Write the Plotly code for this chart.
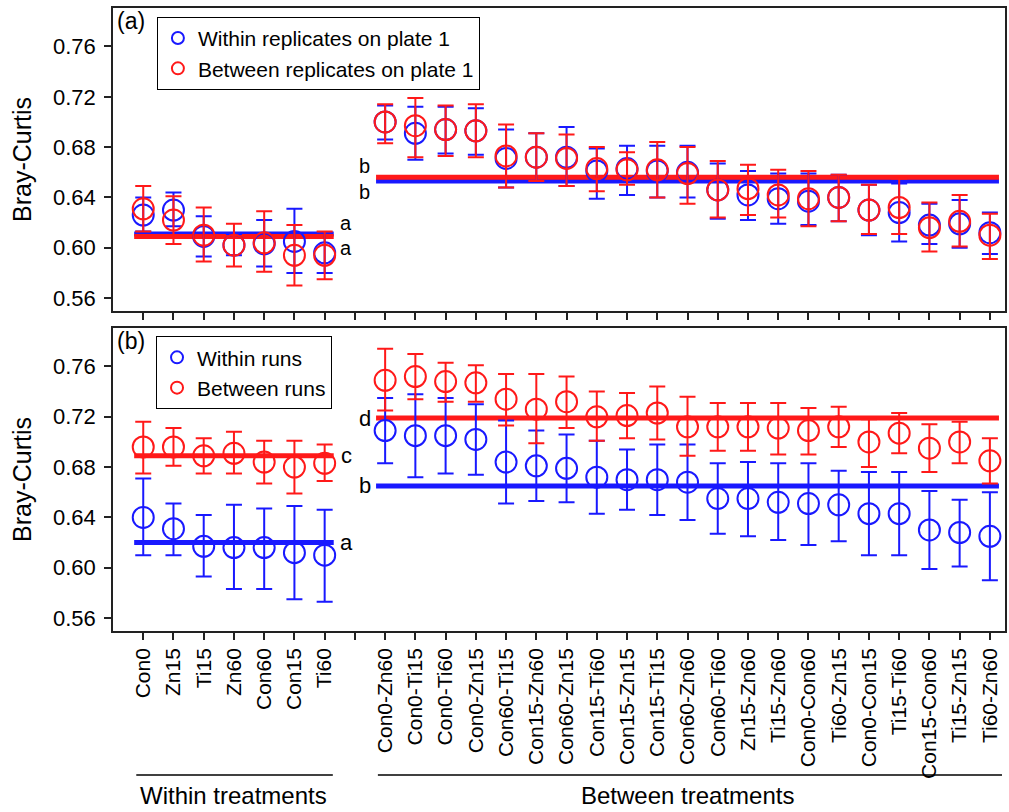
import plotly.graph_objects as go
import numpy as np

# ---------------- data ----------------
within_cats = ["Con0", "Zn15", "Ti15", "Zn60", "Con60", "Con15", "Ti60"]
between_cats = ["Con0-Zn60", "Con0-Ti15", "Con0-Ti60", "Con0-Zn15", "Con60-Ti15",
                "Con15-Zn60", "Con60-Zn15", "Con15-Ti60", "Con15-Zn15", "Con15-Ti15",
                "Con60-Zn60", "Con60-Ti60", "Zn15-Zn60", "Ti15-Zn60", "Con0-Con60",
                "Ti60-Zn15", "Con0-Con15", "Ti15-Ti60", "Con15-Con60", "Ti15-Zn15",
                "Ti60-Zn60"]

# Panel (a): replicates on plate 1
a_w_blue_mean = [0.626, 0.630, 0.609, 0.602, 0.603, 0.605, 0.596]
a_w_blue_hi   = [0.640, 0.644, 0.625, 0.611, 0.622, 0.631, 0.612]
a_w_blue_lo   = [0.613, 0.617, 0.593, 0.594, 0.585, 0.580, 0.580]
a_w_red_mean  = [0.631, 0.622, 0.610, 0.602, 0.604, 0.594, 0.594]
a_w_red_hi    = [0.649, 0.641, 0.632, 0.619, 0.629, 0.618, 0.613]
a_w_red_lo    = [0.613, 0.603, 0.589, 0.585, 0.581, 0.570, 0.575]

a_b_blue_mean = [0.700, 0.691, 0.694, 0.693, 0.671, 0.672, 0.672, 0.661, 0.663, 0.661,
                 0.660, 0.646, 0.642, 0.639, 0.637, 0.640, 0.630, 0.628, 0.618, 0.619, 0.612]
a_b_blue_hi   = [0.713, 0.712, 0.712, 0.711, 0.694, 0.691, 0.696, 0.679, 0.681, 0.681,
                 0.681, 0.667, 0.661, 0.659, 0.659, 0.658, 0.650, 0.651, 0.635, 0.638, 0.628]
a_b_blue_lo   = [0.686, 0.670, 0.675, 0.674, 0.648, 0.653, 0.649, 0.639, 0.642, 0.640,
                 0.640, 0.623, 0.622, 0.619, 0.618, 0.621, 0.610, 0.605, 0.603, 0.600, 0.595]
a_b_red_mean  = [0.700, 0.697, 0.694, 0.693, 0.673, 0.672, 0.671, 0.663, 0.662, 0.662,
                 0.659, 0.646, 0.647, 0.642, 0.639, 0.640, 0.630, 0.632, 0.616, 0.621, 0.610]
a_b_red_hi    = [0.714, 0.719, 0.713, 0.714, 0.698, 0.691, 0.690, 0.680, 0.676, 0.684,
                 0.680, 0.669, 0.666, 0.662, 0.661, 0.658, 0.650, 0.655, 0.636, 0.642, 0.627]
a_b_red_lo    = [0.683, 0.672, 0.673, 0.672, 0.648, 0.653, 0.649, 0.645, 0.650, 0.640,
                 0.635, 0.624, 0.626, 0.624, 0.617, 0.621, 0.611, 0.611, 0.597, 0.601, 0.591]

a_group_means_blue = [0.611, 0.653]   # within, between
a_group_means_red  = [0.609, 0.656]
a_letters_blue = ["a", "b"]
a_letters_red  = ["a", "b"]

# Panel (b): runs
b_w_blue_mean = [0.640, 0.631, 0.617, 0.616, 0.616, 0.612, 0.610]
b_w_blue_hi   = [0.671, 0.651, 0.642, 0.650, 0.647, 0.649, 0.646]
b_w_blue_lo   = [0.610, 0.610, 0.593, 0.583, 0.583, 0.575, 0.573]
b_w_red_mean  = [0.696, 0.696, 0.689, 0.691, 0.684, 0.680, 0.683]
b_w_red_hi    = [0.716, 0.711, 0.703, 0.708, 0.701, 0.701, 0.698]
b_w_red_lo    = [0.675, 0.681, 0.675, 0.675, 0.667, 0.659, 0.669]

b_b_blue_mean = [0.709, 0.705, 0.705, 0.702, 0.684, 0.681, 0.679, 0.672, 0.670, 0.670,
                 0.668, 0.655, 0.655, 0.652, 0.651, 0.650, 0.643, 0.643, 0.630, 0.628, 0.625]
b_b_blue_hi   = [0.735, 0.738, 0.735, 0.730, 0.717, 0.709, 0.706, 0.701, 0.694, 0.698,
                 0.698, 0.683, 0.684, 0.683, 0.683, 0.677, 0.676, 0.676, 0.661, 0.654, 0.660]
b_b_blue_lo   = [0.683, 0.672, 0.675, 0.674, 0.651, 0.653, 0.652, 0.643, 0.646, 0.642,
                 0.638, 0.627, 0.625, 0.622, 0.618, 0.621, 0.610, 0.610, 0.599, 0.601, 0.590]
b_b_red_mean  = [0.749, 0.752, 0.748, 0.747, 0.734, 0.726, 0.732, 0.720, 0.721, 0.723,
                 0.712, 0.712, 0.712, 0.711, 0.709, 0.712, 0.700, 0.707, 0.695, 0.700, 0.685]
b_b_red_hi    = [0.774, 0.770, 0.763, 0.761, 0.754, 0.754, 0.752, 0.740, 0.739, 0.744,
                 0.736, 0.731, 0.731, 0.731, 0.727, 0.728, 0.718, 0.723, 0.714, 0.716, 0.703]
b_b_red_lo    = [0.725, 0.734, 0.732, 0.732, 0.713, 0.699, 0.711, 0.701, 0.703, 0.702,
                 0.689, 0.693, 0.693, 0.690, 0.690, 0.696, 0.680, 0.691, 0.676, 0.683, 0.667]

b_group_means_blue = [0.620, 0.665]
b_group_means_red  = [0.689, 0.719]
b_letters_blue = ["a", "b"]
b_letters_red  = ["c", "d"]

y_ticks = [0.56, 0.60, 0.64, 0.68, 0.72, 0.76]

legend_a = ["Within replicates on plate 1", "Between replicates on plate 1"]
legend_b = ["Within runs", "Between runs"]
group_labels = ["Within treatments", "Between treatments"]

# ---------------- layout helpers ----------------
BLUE = "rgb(25,25,255)"
RED = "rgb(255,25,25)"
FONT = "Liberation Sans, Arial, sans-serif"

x_within = list(range(1, len(within_cats) + 1))
x_between = list(range(len(within_cats) + 2, len(within_cats) + 2 + len(between_cats)))
all_x = x_within + x_between
tickvals = list(range(1, x_between[-1] + 1))
ticktext = within_cats + [""] + between_cats

fig = go.Figure()


def add_series(mean, hi, lo, xs, color, name, legend, row_axis, show):
    m = np.array(mean); h = np.array(hi); l = np.array(lo)
    fig.add_trace(go.Scatter(
        x=xs, y=m, mode="markers", name=name, legend=legend, showlegend=show,
        xaxis=row_axis[0], yaxis=row_axis[1],
        marker=dict(symbol="circle-open", size=21, color=color, line=dict(width=2, color=color)),
        error_y=dict(type="data", symmetric=False, array=h - m, arrayminus=m - l,
                     color=color, thickness=2, width=8),
    ))


def add_mean_line(val, xs, color, row_axis):
    fig.add_trace(go.Scatter(
        x=[xs[0] - 0.3, xs[-1] + 0.3], y=[val, val], mode="lines",
        line=dict(color=color, width=5), showlegend=False, hoverinfo="skip",
        xaxis=row_axis[0], yaxis=row_axis[1]))


panels = [
    dict(axes=("x", "y"), legend="legend",
         w=(a_w_blue_mean, a_w_blue_hi, a_w_blue_lo, a_w_red_mean, a_w_red_hi, a_w_red_lo),
         b=(a_b_blue_mean, a_b_blue_hi, a_b_blue_lo, a_b_red_mean, a_b_red_hi, a_b_red_lo),
         gm_blue=a_group_means_blue, gm_red=a_group_means_red,
         lt_blue=a_letters_blue, lt_red=a_letters_red, names=legend_a, letter_off=True),
    dict(axes=("x2", "y2"), legend="legend2",
         w=(b_w_blue_mean, b_w_blue_hi, b_w_blue_lo, b_w_red_mean, b_w_red_hi, b_w_red_lo),
         b=(b_b_blue_mean, b_b_blue_hi, b_b_blue_lo, b_b_red_mean, b_b_red_hi, b_b_red_lo),
         gm_blue=b_group_means_blue, gm_red=b_group_means_red,
         lt_blue=b_letters_blue, lt_red=b_letters_red, names=legend_b, letter_off=False),
]

annotations = []
for p in panels:
    ax = p["axes"]
    add_mean_line(p["gm_blue"][0], x_within, BLUE, ax)
    add_mean_line(p["gm_red"][0], x_within, RED, ax)
    add_mean_line(p["gm_blue"][1], x_between, BLUE, ax)
    add_mean_line(p["gm_red"][1], x_between, RED, ax)
    add_series(p["w"][0] + p["b"][0], p["w"][1] + p["b"][1], p["w"][2] + p["b"][2],
               all_x, BLUE, p["names"][0], p["legend"], ax, True)
    add_series(p["w"][3] + p["b"][3], p["w"][4] + p["b"][4], p["w"][5] + p["b"][5],
               all_x, RED, p["names"][1], p["legend"], ax, True)
    xr, yr = ax
    if p["letter_off"]:
        hi_w = max(p["gm_blue"][0], p["gm_red"][0]); lo_w = min(p["gm_blue"][0], p["gm_red"][0])
        hi_b = max(p["gm_blue"][1], p["gm_red"][1]); lo_b = min(p["gm_blue"][1], p["gm_red"][1])
        d = 0.0088
        pos = [(x_within[-1] + 0.72, hi_w + d, p["lt_blue"][0], 20),
               (x_within[-1] + 0.72, lo_w - d, p["lt_red"][0], 20),
               (x_between[0] - 0.68, hi_b + d, p["lt_red"][1], 20),
               (x_between[0] - 0.68, lo_b - d, p["lt_blue"][1], 20)]
    else:
        pos = [(x_within[-1] + 0.72, p["gm_red"][0], p["lt_red"][0], 22),
               (x_within[-1] + 0.72, p["gm_blue"][0], p["lt_blue"][0], 22),
               (x_between[0] - 0.68, p["gm_red"][1], p["lt_red"][1], 22),
               (x_between[0] - 0.68, p["gm_blue"][1], p["lt_blue"][1], 22)]
    for (xx, yy, t, fs) in pos:
        annotations.append(dict(x=xx, y=yy, xref=xr, yref=yr, text=t, showarrow=False,
                                xanchor="center", yanchor="middle",
                                font=dict(size=fs, color="black", family=FONT)))

# panel labels
annotations.append(dict(x=0.002, y=1.003, xref="paper", yref="paper", text="(a)", showarrow=False,
                        xanchor="left", yanchor="top", font=dict(size=23, family=FONT, color="black")))
annotations.append(dict(x=0.002, y=0.4895, xref="paper", yref="paper", text="(b)", showarrow=False,
                        xanchor="left", yanchor="top", font=dict(size=23, family=FONT, color="black")))

# group labels under axis
for lbl, xs in zip(group_labels, [x_within, x_between]):
    annotations.append(dict(x=(xs[0] + xs[-1]) / 2, y=-0.2635, xref="x2", yref="paper",
                            text=lbl, showarrow=False, xanchor="center", yanchor="middle",
                            font=dict(size=24, family=FONT, color="black")))

shapes = [
    dict(type="line", xref="x2", yref="paper", x0=x_within[0] - 0.23, x1=x_within[-1] + 0.27,
         y0=-0.2312, y1=-0.2312, line=dict(color="black", width=1.5)),
    dict(type="line", xref="x2", yref="paper", x0=x_between[0] - 0.24, x1=x_between[-1] + 0.4,
         y0=-0.2312, y1=-0.2312, line=dict(color="black", width=1.5)),
]

axis_common = dict(showline=True, linecolor="#222", linewidth=1.5, mirror=True,
                   ticks="outside", ticklen=7, tickwidth=1.5, tickcolor="#222",
                   showgrid=False, zeroline=False)
xaxis_common = dict(axis_common, range=[0, 29.5], tickvals=tickvals, ticktext=ticktext)
yaxis_common = dict(axis_common, range=[0.5497, 0.7906], tickvals=y_ticks, ticklabelstandoff=4,
                    tickformat=".2f", tickfont=dict(size=22, family=FONT, color="black"),
                    title=dict(text="Bray-Curtis", font=dict(size=25, family=FONT, color="black"),
                               standoff=14))

legend_common = dict(bgcolor="white", bordercolor="black", borderwidth=1.2,
                     font=dict(size=21, family=FONT, color="black"),
                     xanchor="left", yanchor="top", tracegroupgap=0, itemsizing="constant")

fig.update_layout(
    width=1009, height=812,
    margin=dict(l=113, r=2, t=8, b=181),
    paper_bgcolor="white", plot_bgcolor="white",
    font=dict(family=FONT, color="black"),
    xaxis=dict(xaxis_common, domain=[0, 1], anchor="y", showticklabels=False),
    yaxis=dict(yaxis_common, domain=[0.5136, 1], anchor="x"),
    xaxis2=dict(xaxis_common, domain=[0, 1], anchor="y2", tickangle=-90,
                tickfont=dict(size=21, family=FONT, color="black")),
    yaxis2=dict(yaxis_common, domain=[0, 0.4864], anchor="x2"),
    legend=dict(legend_common, x=0.049, y=0.986),
    legend2=dict(legend_common, x=0.048, y=0.4735),
    annotations=annotations,
    shapes=shapes,
)

fig.write_html("out.html", config={"displayModeBar": False},
               post_script="document.body.style.margin='0';")
